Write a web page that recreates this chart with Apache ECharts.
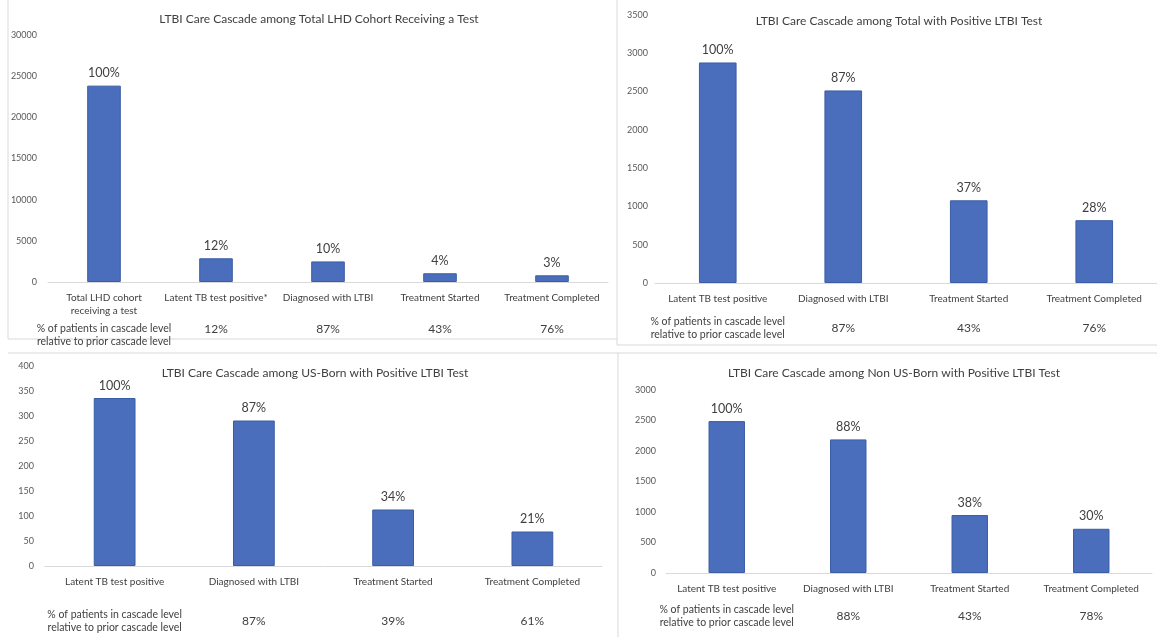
<!DOCTYPE html>
<html>
<head>
<meta charset="utf-8">
<script src="https://cdn.jsdelivr.net/npm/echarts@6/dist/echarts.min.js"></script>
<style>
  html, body { margin: 0; padding: 0; background: #fff; }
  #chart { width: 1157px; height: 637px; }
</style>
</head>
<body>
<div id="chart"></div>
<script>
// cascade stages
const stagesTotal = ['Total LHD cohort\nreceiving a test', 'Latent TB test positive*', 'Diagnosed with LTBI', 'Treatment Started', 'Treatment Completed'];
const stagesPositive = ['Latent TB test positive', 'Diagnosed with LTBI', 'Treatment Started', 'Treatment Completed'];

// patient counts
const countsTotal = [23850, 2880, 2500, 1060, 810];
const countsPositive = [2880, 2515, 1080, 820];
const countsUsBorn = [336, 291, 113, 69];
const countsNonUsBorn = [2490, 2190, 950, 725];

// labels above the bars
const pctTotal = ['100%', '12%', '10%', '4%', '3%'];
const pctPositive = ['100%', '87%', '37%', '28%'];
const pctUsBorn = ['100%', '87%', '34%', '21%'];
const pctNonUsBorn = ['100%', '88%', '38%', '30%'];

// row under the axis: relative to prior level
const relHeader = ['% of patients in cascade level', 'relative to prior cascade level'];
const relTotal = ['', '12%', '87%', '43%', '76%'];
const relPositive = ['', '87%', '43%', '76%'];
const relUsBorn = ['', '87%', '39%', '61%'];
const relNonUsBorn = ['', '88%', '43%', '78%'];

const titles = [
  'LTBI Care Cascade among Total LHD Cohort Receiving a Test',
  'LTBI Care Cascade among Total with Positive LTBI Test',
  'LTBI Care Cascade among US-Born with Positive LTBI Test',
  'LTBI Care Cascade among Non US-Born with Positive LTBI Test'
];

const font = 'Lato';
const textColor = '#404040';
const barColor = '#4a6ebb';

const panels = [
  { cats: stagesTotal, values: countsTotal, pct: pctTotal, rel: relTotal, max: 30000, interval: 5000,
    grid: { left: 48, top: 35, width: 560, height: 247 }, title: [314, 8], ylMargin: 11, relMargin: 40, relAlign: 'top' },
  { cats: stagesPositive, values: countsPositive, pct: pctPositive, rel: relPositive, max: 3500, interval: 500,
    grid: { left: 655, top: 15, width: 502, height: 268 }, title: [894, 10], ylMargin: 7, relMargin: 45, relAlign: 'middle' },
  { cats: stagesPositive, values: countsUsBorn, pct: pctUsBorn, rel: relUsBorn, max: 400, interval: 50,
    grid: { left: 45, top: 366, width: 557, height: 200 }, title: [310, 362], ylMargin: 11, relMargin: 55, relAlign: 'middle' },
  { cats: stagesPositive, values: countsNonUsBorn, pct: pctNonUsBorn, rel: relNonUsBorn, max: 3000, interval: 500,
    grid: { left: 666, top: 390, width: 486, height: 183 }, title: [889, 362], ylMargin: 10, relMargin: 43, relAlign: 'middle' }
];

const chart = echarts.init(document.getElementById('chart'));

const xAxes = [];
const yAxes = [];
const series = [];
panels.forEach(function (p, i) {
  xAxes.push({
    type: 'category',
    gridIndex: i,
    data: p.cats,
    axisLine: { lineStyle: { color: '#d9d9d9' } },
    axisTick: { show: false },
    axisLabel: { interval: 0, margin: 9, color: textColor, fontFamily: font, fontSize: 10, lineHeight: 13 }
  });
  xAxes.push({
    type: 'category',
    gridIndex: i,
    position: 'bottom',
    data: p.rel,
    axisLine: { show: false },
    axisTick: { show: false },
    axisLabel: {
      interval: 0, margin: p.relMargin, verticalAlign: p.relAlign,
      color: textColor, fontFamily: font,
      formatter: function (v, idx) {
        if (idx === 0) return '{h|' + relHeader[0] + '}\n{h|' + relHeader[1] + '}';
        return '{v|' + v + '}';
      },
      rich: {
        h: { fontFamily: font, fontSize: 10.5, lineHeight: 13, color: textColor },
        v: { fontFamily: font, fontSize: 12, lineHeight: 14, color: textColor }
      }
    }
  });
  yAxes.push({
    type: 'value',
    gridIndex: i,
    min: 0,
    max: p.max,
    interval: p.interval,
    splitLine: { show: false },
    axisLine: { show: false },
    axisTick: { show: false },
    axisLabel: {
      margin: p.ylMargin, color: '#595959', fontFamily: font, fontSize: 9,
      formatter: function (v) { return String(v); }
    }
  });
  series.push({
    type: 'bar',
    xAxisIndex: i * 2,
    yAxisIndex: i,
    data: p.values,
    barWidth: '30%',
    itemStyle: { color: barColor, borderColor: '#3a5da6', borderWidth: 1 },
    label: {
      show: true,
      position: 'top',
      distance: 6,
      color: textColor,
      fontFamily: font,
      fontSize: 12.5,
      formatter: function (d) { return p.pct[d.dataIndex]; }
    }
  });
});

const borderStyle = { stroke: '#d9d9d9', lineWidth: 1 };

chart.setOption({
  animation: false,
  title: panels.map(function (p, i) {
    return {
      text: titles[i],
      left: p.title[0],
      top: p.title[1],
      textAlign: 'center',
      textStyle: { fontFamily: font, fontSize: 12, fontWeight: 'normal', color: textColor }
    };
  }),
  grid: panels.map(function (p) { return p.grid; }),
  xAxis: xAxes,
  yAxis: yAxes,
  series: series,
  graphic: [
    { type: 'line', shape: { x1: 8, y1: 0, x2: 8, y2: 339 }, style: borderStyle },
    { type: 'line', shape: { x1: 8, y1: 339, x2: 617, y2: 339 }, style: borderStyle },
    { type: 'line', shape: { x1: 617, y1: 0, x2: 617, y2: 345 }, style: borderStyle },
    { type: 'line', shape: { x1: 617, y1: 345, x2: 1157, y2: 345 }, style: borderStyle },
    { type: 'line', shape: { x1: 8, y1: 353, x2: 1157, y2: 353 }, style: borderStyle },
    { type: 'line', shape: { x1: 618, y1: 353, x2: 618, y2: 637 }, style: borderStyle }
  ]
});
</script>
</body>
</html>
